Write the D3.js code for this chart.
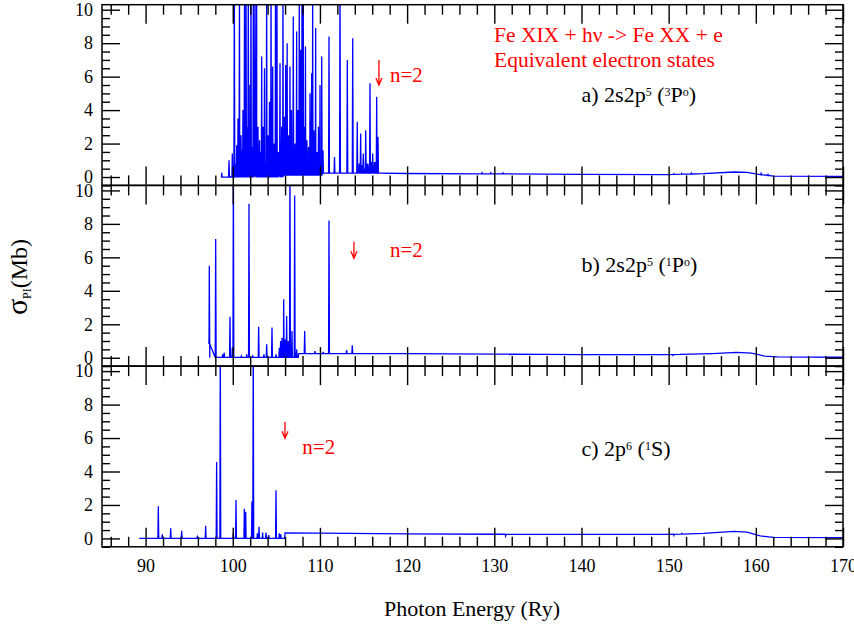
<!DOCTYPE html>
<html><head><meta charset="utf-8">
<style>
body{margin:0;background:#fff}
.srf{font-family:"Liberation Serif",Tinos,"Times New Roman",Times;}
#fontwarm{position:absolute;left:-2000px;top:0;visibility:hidden;font-family:"Liberation Serif";font-size:20px}
</style>
<script src="https://cdn.jsdelivr.net/npm/d3@7"></script>
</head><body>
<div id="fontwarm">Fe XIX 0123</div>
<svg id="chart" width="854" height="626"></svg>
<script>
// ---------------- DATA ----------------
const xMajorTicks = [90,100,110,120,130,140,150,160,170];
const yMajorTicks = [0,2,4,6,8,10];
const xLabel = "Photon Energy (Ry)";
const titleLines = ["Fe XIX + h\u03bd -> Fe XX + e", "Equivalent electron states"];

// panel a: 2s2p5 (3Po) background [E, sigma]
const bgA = [[98.7,0],[105.8,0.02],[105.9,0.12],[110.2,0.12],[110.3,0.24],[116.8,0.23],[120,0.21],[130,0.19],[140,0.16],[150,0.15],[154,0.2],[157.5,0.3],[159,0.28],[160.5,0.15],[162,0.06],[170,0.04]];
// panel a resonances [E, peak]
const resA = [[98.73,0.25],[99.57,1.0],[99.95,1.4],[100.18,12],[100.3,0.8],[100.45,1.9],[100.52,1.6],[100.6,3.5],[100.77,12],[100.85,1.0],[100.94,2.5],[101.05,1.6],[101.17,4.0],[101.25,1.2],[101.35,12],[101.42,1.4],[101.52,12],[101.65,3.0],[101.78,12],[101.9,1.4],[101.98,5.5],[102.09,12],[102.18,1.8],[102.36,12],[102.45,1.2],[102.55,12],[102.65,2.4],[102.74,12],[102.8,1.0],[102.89,3.0],[103.0,0.8],[103.07,2.2],[103.2,1.5],[103.32,7.2],[103.4,1.0],[103.47,3.0],[103.55,2.2],[103.64,6.5],[103.75,0.9],[103.89,12],[103.97,1.2],[104.04,2.5],[104.12,0.7],[104.21,4.5],[104.3,1.8],[104.39,12],[104.48,1.3],[104.58,6.6],[104.65,0.7],[104.73,2.0],[104.82,2.0],[104.9,12],[105.0,1.1],[105.07,12],[105.15,1.5],[105.22,1.5],[105.32,0.8],[105.42,6.8],[105.5,1.5],[105.61,3.0],[105.68,0.9],[105.76,12],[105.85,1.2],[105.93,3.6],[106.0,0.8],[106.07,6.7],[106.15,2.0],[106.24,8.0],[106.32,0.9],[106.39,2.5],[106.48,1.3],[106.56,6.6],[106.65,1.0],[106.73,4.0],[106.85,1.8],[106.94,9.6],[107.05,0.8],[107.14,2.0],[107.22,1.5],[107.33,8.7],[107.4,1.1],[107.48,4.0],[107.55,2.0],[107.63,12],[107.7,1.2],[107.79,7.6],[107.87,1.0],[107.94,12],[108.02,1.6],[108.09,12],[108.15,0.9],[108.23,3.0],[108.34,7.8],[108.42,1.2],[108.51,2.2],[108.6,0.8],[108.69,1.8],[108.78,1.3],[108.86,5.0],[108.95,1.0],[109.05,6.2],[109.1,1.1],[109.16,12],[109.25,0.8],[109.32,2.8],[109.42,1.0],[109.51,8.9],[109.58,0.7],[109.66,1.5],[109.75,0.9],[109.83,3.0],[109.92,1.2],[110.01,5.5],[110.1,0.8],[110.2,7.2],[110.35,1.6],[111.04,8.4],[111.67,1.2],[112.3,12],[113.14,7.0],[113.76,8.3],[114.28,3.3],[114.4,0.6],[114.5,0.8],[114.67,2.6],[114.85,0.7],[114.97,1.4],[115.1,0.5],[115.25,2.8],[115.4,0.8],[115.51,0.8],[115.6,0.6],[115.74,5.6],[115.9,0.9],[116.05,1.4],[116.15,0.7],[116.26,0.9],[116.35,0.9],[116.51,4.8],[116.6,0.8],[116.66,2.4],[128.6,0.26],[129.6,0.25],[131.0,0.24],[150.6,0.2],[151.5,0.22],[152.6,0.24],[160.6,0.22],[161.4,0.16]];

// panel b: 2s2p5 (1Po)
const bgB = [[97.28,1.3],[97.36,0.02],[107.5,0.02],[107.56,0.25],[120,0.24],[130,0.22],[140,0.19],[150,0.18],[155,0.25],[157.8,0.32],[159.5,0.28],[161,0.1],[162.5,0.05],[170,0.03]];
const resB = [[97.31,5.5],[98.04,7.1],[98.84,0.2],[99.02,0.3],[99.68,2.45],[99.95,0.6],[100.07,12],[100.98,0.1],[101.6,0.2],[101.86,9.2],[102.3,0.1],[102.97,1.85],[103.57,0.2],[103.89,0.8],[104.5,1.8],[104.96,0.2],[105.34,0.6],[105.49,1.0],[105.65,1.2],[105.76,0.9],[105.84,3.5],[105.99,1.1],[106.18,2.5],[106.37,1.0],[106.56,12],[106.79,1.6],[107.1,9.7],[107.33,0.5],[108.25,1.6],[109.43,0.4],[110.38,0.35],[111.04,8.2],[113.06,0.45],[113.71,0.75],[131.8,0.18],[150.5,0.14],[151.4,0.22]];

// panel c: 2p6 (1S)
const bgC = [[89.28,0],[105.95,0],[106.0,0.33],[110,0.32],[120,0.27],[130,0.25],[140,0.24],[150,0.24],[154,0.3],[157.5,0.42],[159,0.38],[160.5,0.15],[162,0.06],[170,0.05]];
const resC = [[91.46,1.93],[91.92,0.25],[92.88,0.6],[94.14,0.45],[95.93,0.1],[96.89,0.75],[98.15,4.57],[98.57,12],[100.06,0.3],[100.37,2.29],[101.33,1.77],[101.48,1.6],[102.2,2.2],[102.35,12],[102.82,0.3],[103.01,0.7],[103.42,0.35],[103.81,0.35],[104.12,0.2],[104.96,2.88],[105.34,0.3],[105.5,0.25],[131.3,0.15],[150.6,0.18],[151.5,0.3]];

// panel state labels: [text, kind]
const labelA = [["a) 2s2p",""],["5","sup"],[" (",""],["3","sup"],["P",""],["o","sup"],[")",""]];
const labelB = [["b) 2s2p",""],["5","sup"],[" (",""],["1","sup"],["P",""],["o","sup"],[")",""]];
const labelC = [["c) 2p",""],["6","sup"],[" (",""],["1","sup"],["S",""],[")",""]];

// n=2 threshold arrows (energy)
const thresholdE = [116.77, 113.9, 105.99];

// ---------------- LAYOUT ----------------
const svg = d3.select("#chart");
function serif(sel, size){
  return sel.attr("class","srf").attr("font-family","Liberation Serif")
    .style("font-family", "Liberation Serif").style("font-size", size + "px");
}
const L = 102, R = 843;
const panelTops = [4.7, 185.4, 366.1];
const PH = 180.7;
const x = d3.scaleLinear().domain([85,170]).range([L,R]);
const xMinor = d3.range(86,171,2).filter(v => v % 10 !== 0);
const yMinor = d3.range(-0.5,10.31,0.5).filter(v => Math.abs(v/2 - Math.round(v/2)) > 1e-9);

const panels = [
  {bg:bgA, res:resA, label:labelA, labelY:101.7, arrow:[7.0,5.5], n2:[118.03,5.68]},
  {bg:bgB, res:resB, label:labelB, labelY:271.5, arrow:[6.93,5.94], n2:[118.03,6.04]},
  {bg:bgC, res:resC, label:labelC, labelY:456, arrow:[6.98,5.98], n2:[107.98,5.03]}
];

function buildSeries(bg, res, w){
  const base = d3.scaleLinear().domain(bg.map(d=>d[0])).range(bg.map(d=>d[1])).clamp(true);
  const pts = bg.map(d=>[d[0],d[1]]);
  res.forEach(([e,h])=>{
    const b = base(e);
    pts.push([e-w,b],[e,h],[e+w,b]);
  });
  pts.sort((a,b)=>a[0]-b[0]);
  return pts;
}

const red = "#ff0000";

titleLines.forEach((s,i)=>{
  serif(svg.append("text").attr("x",494).attr("y",42+i*25).attr("fill",red), 21.5).text(s);
});

panels.forEach((p,i)=>{
  const top = panelTops[i];
  const y = d3.scaleLinear().domain([-0.5,10.3]).range([top+PH, top]);
  const g = svg.append("g");

  g.append("clipPath").attr("id","clip"+i).append("rect")
    .attr("x",L).attr("y",top).attr("width",R-L).attr("height",PH);

  const data = buildSeries(p.bg, p.res, 0.05);
  const line = d3.line().x(d=>x(d[0])).y(d=>y(d[1]));
  g.append("path").datum(data).attr("d",line)
    .attr("clip-path","url(#clip"+i+")")
    .attr("fill","none").attr("stroke","#0000ff").attr("stroke-width",1.3);

  const styleAxis = sel => {
    sel.attr("font-family",null).attr("font-size",null);
    sel.select(".domain").remove();
    sel.selectAll("line").attr("stroke","#000").attr("stroke-width",1.4);
    serif(sel.selectAll("text").attr("fill","#000"), 18);
  };

  const bottomMajor = d3.axisBottom(x).tickValues(xMajorTicks).tickSize(-19).tickPadding(12.4);
  if (i < 2) bottomMajor.tickFormat("");
  g.append("g").attr("transform",`translate(0,${top+PH})`).call(bottomMajor).call(styleAxis);
  g.append("g").attr("transform",`translate(0,${top+PH})`)
    .call(d3.axisBottom(x).tickValues(xMinor).tickSize(-10).tickFormat("")).call(styleAxis);
  g.append("g").attr("transform",`translate(0,${top})`)
    .call(d3.axisTop(x).tickValues(xMajorTicks).tickSize(-19).tickFormat("")).call(styleAxis);
  g.append("g").attr("transform",`translate(0,${top})`)
    .call(d3.axisTop(x).tickValues(xMinor).tickSize(-10).tickFormat("")).call(styleAxis);

  g.append("g").attr("transform",`translate(${L},0)`)
    .call(d3.axisLeft(y).tickValues(yMajorTicks).tickSize(-18).tickPadding(9)).call(styleAxis);
  g.append("g").attr("transform",`translate(${L},0)`)
    .call(d3.axisLeft(y).tickValues(yMinor).tickSize(-8).tickFormat("")).call(styleAxis);
  g.append("g").attr("transform",`translate(${R},0)`)
    .call(d3.axisRight(y).tickValues(yMajorTicks).tickSize(-18).tickFormat("")).call(styleAxis);
  g.append("g").attr("transform",`translate(${R},0)`)
    .call(d3.axisRight(y).tickValues(yMinor).tickSize(-8).tickFormat("")).call(styleAxis);

  g.append("rect").attr("x",L).attr("y",top).attr("width",R-L).attr("height",PH)
    .attr("fill","none").attr("stroke","#000").attr("stroke-width",1.5);

  const t = serif(g.append("text").attr("x",581.5).attr("y",p.labelY).attr("fill","#000"), 22);
  let raised = false;
  p.label.forEach(([s,k])=>{
    const ts = t.append("tspan").text(s);
    if (k==="sup"){ ts.style("font-size","12px").attr("dy",raised?0:-6); raised = true; }
    else if (raised){ ts.attr("dy",6); raised = false; }
  });

  const ax = x(thresholdE[i]);
  const y1 = y(p.arrow[0]), y2 = y(p.arrow[1]);
  g.append("path")
    .attr("d",`M${ax},${y1}L${ax},${y2}M${ax-3},${y2-7}L${ax},${y2}L${ax+3},${y2-7}`)
    .attr("fill","none").attr("stroke",red).attr("stroke-width",1.3);
  serif(g.append("text").attr("x",x(p.n2[0])).attr("y",y(p.n2[1])).attr("fill",red), 21).text("n=2");
});

serif(svg.append("text").attr("x",472).attr("y",616).attr("text-anchor","middle").attr("fill","#000"), 22).text(xLabel);

const yl = serif(svg.append("text").attr("transform","translate(27,277) rotate(-90)")
  .attr("text-anchor","middle").attr("fill","#000"), 24);
yl.append("tspan").style("font-size","30px").text("\u03c3");
yl.append("tspan").style("font-size","12px").attr("dy",4).text("PI");
yl.append("tspan").attr("dy",-4).text("(Mb)");
</script>
</body></html>
